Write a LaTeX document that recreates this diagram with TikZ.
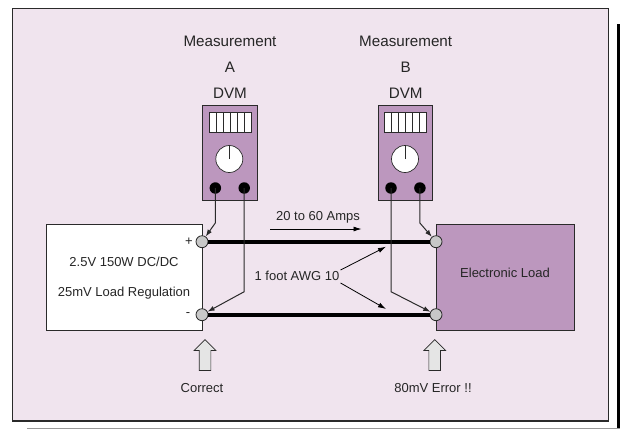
\documentclass[tikz,border=0pt]{standalone}
\usepackage{fontspec}
\setmainfont{Liberation Sans}
\usetikzlibrary{arrows.meta,shapes.arrows}
\definecolor{panelpink}{HTML}{F0E4EE}
\definecolor{meterpurple}{HTML}{BC97BE}
\definecolor{postgray}{HTML}{C8C8C8}
\definecolor{linegray}{HTML}{2A2A2A}
\tikzset{
    label/.style={font=\fontsize{13}{15}\selectfont, text=black!85, inner sep=0pt},
    biglabel/.style={font=\fontsize{15.2}{17}\selectfont, text=black!85, inner sep=0pt},
    post/.style={circle, draw=linegray, fill=postgray, line width=0.8pt, minimum size=12pt, inner sep=0pt},
    jack/.style={circle, fill=black, minimum size=11.5pt, inner sep=0pt},
    lead/.style={draw=linegray, line width=1pt, -{Latex[length=7pt,width=5pt]}},
    pointer/.style={draw=black, line width=0.8pt, -{Latex[length=8pt,width=5pt]}},
    upmark/.style={single arrow, draw=linegray, fill=black!10, line width=0.7pt, shape border rotate=90,
        minimum height=31pt, inner sep=5.5pt, single arrow head extend=5pt,
        single arrow head indent=0pt}
}
\begin{document}
\begin{tikzpicture}[x=1pt, y=-1pt]
    \useasboundingbox (0,0) rectangle (620,429);

    % page rules
    \fill[black] (617,24) rectangle (620,429);
    \draw[black!40, line width=1pt] (27,428.5) -- (620,428.5);

    % panel
    \node[draw=none, minimum width=0pt, inner sep=0pt] (corner) at (12.5,8) {};
    \draw[fill=panelpink, draw=linegray, line width=1pt] (corner.center) rectangle (608,421);
    \draw[linegray, line width=1.6pt] (12.5,421) -- (608,421);

    % meters
    \foreach \m/\l/\s in {a/A/0, b/B/175.7} {
        \begin{scope}[xshift=\s pt]
            \node[biglabel] (head\m) at (230,41) {Measurement};
            \node[biglabel] (name\m) at (230,67) {\l};
            \node[biglabel] (dvm\m) at (230,93) {DVM};
            \draw[fill=meterpurple, draw=linegray, line width=0.8pt] (202.5,105) rectangle (257,200);
            \draw[fill=white, draw=linegray, line width=0.7pt] (209,112.7) rectangle (251,132.3);
            \foreach \i in {216,223,230,237,244} {
                \draw[linegray, line width=0.6pt] (\i,112.7) -- (\i,132.3);
            }
            \node[circle, draw=linegray, fill=white, line width=0.7pt, minimum size=27pt, inner sep=0pt] (dial\m) at (229.3,159) {};
            \draw[linegray, line width=0.7pt] (dial\m.center) -- (dial\m.north);
            \node[jack] (jl\m) at (215.3,188) {};
            \node[jack] (jr\m) at (244.2,188) {};
        \end{scope}
    }

    % boxes
    \node[draw=linegray, fill=white, line width=0.8pt, minimum width=156.5pt, minimum height=105.5pt, inner sep=0pt] (supply) at (124.25,277.25) {};
    \node[draw=linegray, fill=meterpurple, line width=0.8pt, minimum width=138pt, minimum height=105.5pt, inner sep=0pt] (load) at (505,277.25) {};
    \node[label] (line1) at (124,262) {2.5V 150W DC/DC};
    \node[label] (line2) at (124,293) {25mV Load Regulation};
    \node[label] (loadtext) at (505,273) {Electronic Load};

    % posts and wires
    \node[post] (sp) at (202,241.7) {};
    \node[post] (sm) at (202,314.7) {};
    \node[post] (lp) at (436,241.7) {};
    \node[post] (lm) at (436,314.7) {};
    \draw[black, line width=3.6pt] (sp) -- (lp);
    \draw[black, line width=3.6pt] (sm) -- (lm);
    \node[label] (plus) at (189,242) {+};
    \node[label] (minus) at (188,314.5) {-};

    % sense leads
    \coordinate (k1) at (215.3,223);
    \coordinate (k2) at (244.2,291.7);
    \coordinate (k3) at (391,291.7);
    \coordinate (k4) at (419.9,223);
    \draw[lead] (jla.center) -- (k1) -- (sp);
    \draw[lead] (jra.center) -- (k2) -- (sm);
    \draw[lead] (jlb.center) -- (k3) -- (lm);
    \draw[lead] (jrb.center) -- (k4) -- (lp);

    % current
    \node[label] (amps) at (318,217) {20 to 60 Amps};
    \coordinate (c1) at (270,229);
    \coordinate (c2) at (361.5,229);
    \draw[pointer] (c1) -- (c2);

    % wire label
    \node[label] (awg) at (297,276) {1 foot AWG 10};
    \coordinate (w1) at (386,246.7);
    \coordinate (w2) at (386,309);
    \draw[pointer] (awg.east |- 0,270) ++(1,0) -- (w1);
    \draw[pointer] (awg.east |- 0,283) ++(1,0) -- (w2);

    % block arrows
    \node[upmark] (oka) at (205,358) {};
    \node[upmark] (badb) at (434.7,358) {};
    \node[label] (correct) at (202,388) {Correct};
    \node[label] (error) at (433,388) {80mV Error !!};
\end{tikzpicture}
\end{document}
